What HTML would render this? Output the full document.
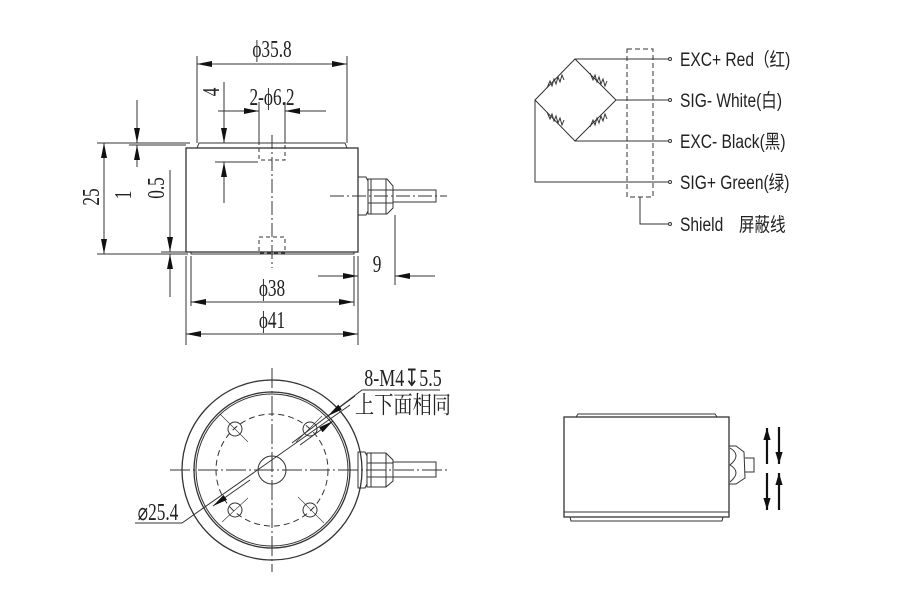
<!DOCTYPE html>
<html><head><meta charset="utf-8"><style>
html,body{margin:0;padding:0;background:#fff;}
svg{display:block;}
.d{font-family:"Liberation Serif","Noto Serif CJK SC",serif;font-size:24px;fill:#222;}
.w{font-family:"Liberation Sans","Noto Sans CJK SC",sans-serif;font-size:19px;fill:#222;}
</style></head><body>
<svg width="900" height="590" viewBox="0 0 900 590" xmlns="http://www.w3.org/2000/svg">
<defs>
<marker id="a" viewBox="0 0 10 4" refX="10" refY="2" markerWidth="16" markerHeight="6" markerUnits="userSpaceOnUse" orient="auto-start-reverse"><path d="M0,0 L10,2 L0,4 z" fill="#111"/></marker>
<marker id="b" viewBox="0 0 10 6" refX="10" refY="3" markerWidth="12" markerHeight="8" markerUnits="userSpaceOnUse" orient="auto-start-reverse"><path d="M0,0 L10,3 L0,6 z" fill="#111"/></marker>
</defs>
<g stroke="#333" stroke-width="1" fill="none">
<path d="M197,148 L199,143 L345,143 L347,148"/>
<rect x="186" y="148" width="172" height="104" stroke-width="1.3"/>
<path d="M191,252 L191,254 L354,254 L354,252"/>
<rect x="259" y="143" width="26" height="17" stroke-dasharray="4,3"/>
<rect x="259" y="237" width="26" height="16" stroke-dasharray="4,3"/>
<path d="M272,135 L272,268" stroke-dasharray="14,3,2,3"/>
<path d="M358,177 L366,177 L368,181 L368,211 L366,215 L358,215 z"/>
<path d="M368,179 L387,179 L393,186 L393,208 L387,214 L368,214 z"/>
<path d="M371,179 L371,214 M386,179 L386,214 M368,190 L393,190 M368,203 L393,203"/>
<path d="M393,190 L436,190 L436,202 L393,202"/>
<path d="M330,196 L447,196" stroke-dasharray="14,3,2,3"/>
<path d="M197,143 L197,56 M347,143 L347,56"/>
<path d="M197,64 L347,64" marker-start="url(#a)" marker-end="url(#a)"/>
<path d="M259,143 L259,102 M285,143 L285,102"/>
<path d="M218,111 L259,111" marker-end="url(#a)"/>
<path d="M326,111 L285,111" marker-end="url(#a)"/>
<path d="M224,82 L224,143" marker-end="url(#a)"/>
<path d="M224,203 L224,162" marker-end="url(#a)"/>
<path d="M215,162 L258,162"/>
<path d="M97,143 L190,143 M97,254 L188,254"/>
<path d="M104,143 L104,254" marker-start="url(#a)" marker-end="url(#a)"/>
<path d="M137,100 L137,143" marker-end="url(#a)"/>
<path d="M137,167 L137,145" marker-end="url(#a)"/>
<path d="M129,145 L186,145"/>
<path d="M170,170 L170,252" marker-end="url(#a)"/>
<path d="M170,297 L170,254" marker-end="url(#a)"/>
<path d="M161,252 L186,252"/>
<path d="M395,215 L395,285"/>
<path d="M318,276 L358,276" marker-end="url(#a)"/>
<path d="M435,276 L395,276" marker-end="url(#a)"/>
<path d="M191,256 L191,306 M354,256 L354,306 M186,256 L186,345 M358,256 L358,345"/>
<path d="M191,302 L354,302" marker-start="url(#a)" marker-end="url(#a)"/>
<path d="M186,334 L358,334" marker-start="url(#a)" marker-end="url(#a)"/>
</g>
<g class="d">
<text text-anchor="middle" transform="translate(272 57) scale(0.72 1)">ϕ35.8</text>
<text text-anchor="middle" transform="translate(272 105) scale(0.72 1)">2-ϕ6.2</text>
<text text-anchor="middle" transform="translate(272 296) scale(0.72 1)">ϕ38</text>
<text text-anchor="middle" transform="translate(272 328) scale(0.72 1)">ϕ41</text>
<text text-anchor="middle" transform="translate(377 272) scale(0.72 1)">9</text>
<text transform="translate(219 92) rotate(-90) scale(0.72 1)" text-anchor="middle">4</text>
<text transform="translate(99 197) rotate(-90) scale(0.72 1)" text-anchor="middle">25</text>
<text transform="translate(131 195) rotate(-90) scale(0.72 1)" text-anchor="middle">1</text>
<text transform="translate(164 188) rotate(-90) scale(0.72 1)" text-anchor="middle">0.5</text>
</g>
<g stroke="#333" stroke-width="1" fill="none">
<circle cx="272" cy="470" r="90" stroke-width="1.3"/>
<circle cx="272" cy="470" r="78" stroke-width="1.3"/>
<circle cx="272" cy="470" r="76"/>
<circle cx="272" cy="470" r="56" stroke-dasharray="6,4"/>
<circle cx="272" cy="470" r="14"/>
<path d="M272,368 L272,572 M170,470 L450,470" stroke-dasharray="20,3,2,3"/>
<circle cx="235" cy="429" r="7"/><circle cx="310" cy="429" r="7"/>
<circle cx="235" cy="510" r="7"/><circle cx="310" cy="510" r="7"/>
<path d="M220,414 L248,442 M322,416 L296,442 M222,522 L248,498 M324,523 L298,497" stroke-width="0.6"/>
<path d="M358,452 L365,452 L367,456 L367,484 L365,488 L358,488 z"/>
<path d="M367,453 L386,453 L393,460 L393,481 L386,487 L367,487 z"/>
<path d="M371,453 L371,487 M386,453 L386,487 M367,463 L393,463 M367,477 L393,477"/>
<path d="M393,462 L436,462 L436,477 L393,477"/>
<path d="M440,390 L362,390 L292,443"/>
<path d="M355,396 L328,416" marker-end="url(#a)"/>
<path d="M135,523 L182,523 L350,405"/>
<path d="M250,480 L213,506" marker-end="url(#a)"/>
<path d="M300,445 L333,421" marker-end="url(#a)"/>
</g>
<text class="d" text-anchor="middle" font-size="22" transform="translate(403 386) scale(0.75 1)">8-M4↧5.5</text>
<text class="d" text-anchor="middle" font-size="19" transform="translate(403 413) scale(0.8 1)">上下面相同</text>
<text class="d" text-anchor="middle" font-size="22" transform="translate(158 520) scale(0.72 1)">⌀25.4</text>
<g stroke="#333" stroke-width="1" fill="none">
<path d="M576,417 L578,414 L715,414 L717,417"/>
<rect x="564" y="417" width="165" height="100" stroke-width="1.3"/>
<path d="M564,512 L729,512"/>
<path d="M570,517 L571,521 L722,521 L723,517"/>
<path d="M729,446 L736,446 L744,452 L745,478 L736,484 L729,484"/>
<path d="M730,448 Q742,455 730,465 Q742,472 730,482"/>
<path d="M745,458 L754,458 L754,472 L745,472"/>
</g>
<g stroke="#111" stroke-width="2.2">
<path d="M767,464 L767,428" marker-end="url(#b)"/>
<path d="M779,427 L779,464" marker-end="url(#b)"/>
<path d="M767,473 L767,510" marker-end="url(#b)"/>
<path d="M779,510 L779,473" marker-end="url(#b)"/>
</g>
<g stroke="#333" stroke-width="1" fill="none">
<path d="M575,59 L668,59 M616,100 L668,100 M575,141 L668,141 M535,100 L535,182 L668,182"/>
<path d="M535,100 L575,59 L616,100 L575,141 Z"/>
<path d="M547,88 l3,-7 l2,5 l2,-7 l2,5 l2,-7 l2,5 l2,-7 l2,5 M590,73 l3,7 l2,-5 l2,7 l2,-5 l2,7 l2,-5 l2,7 l2,-5 M547,112 l3,7 l2,-5 l2,7 l2,-5 l2,7 l2,-5 l2,7 l2,-5 M590,127 l3,-7 l2,5 l2,-7 l2,5 l2,-7 l2,5 l2,-7 l2,5"/>
<rect x="627" y="49" width="26" height="148" stroke-dasharray="5,3"/>
<path d="M640,197 L640,224 L668,224"/>
<circle cx="670" cy="59" r="1.5"/><circle cx="670" cy="100" r="1.5"/><circle cx="670" cy="141" r="1.5"/><circle cx="670" cy="182" r="1.5"/><circle cx="670" cy="224" r="1.5"/>
</g>
<g class="w">
<text transform="translate(680 66) scale(0.82 1)">EXC+ Red（红)</text>
<text transform="translate(680 107) scale(0.82 1)">SIG- White(白)</text>
<text transform="translate(680 148) scale(0.82 1)">EXC- Black(黑)</text>
<text transform="translate(680 189) scale(0.82 1)">SIG+ Green(绿)</text>
<text transform="translate(680 231) scale(0.82 1)">Shield　屏蔽线</text>
</g>
</svg>
</body></html>
